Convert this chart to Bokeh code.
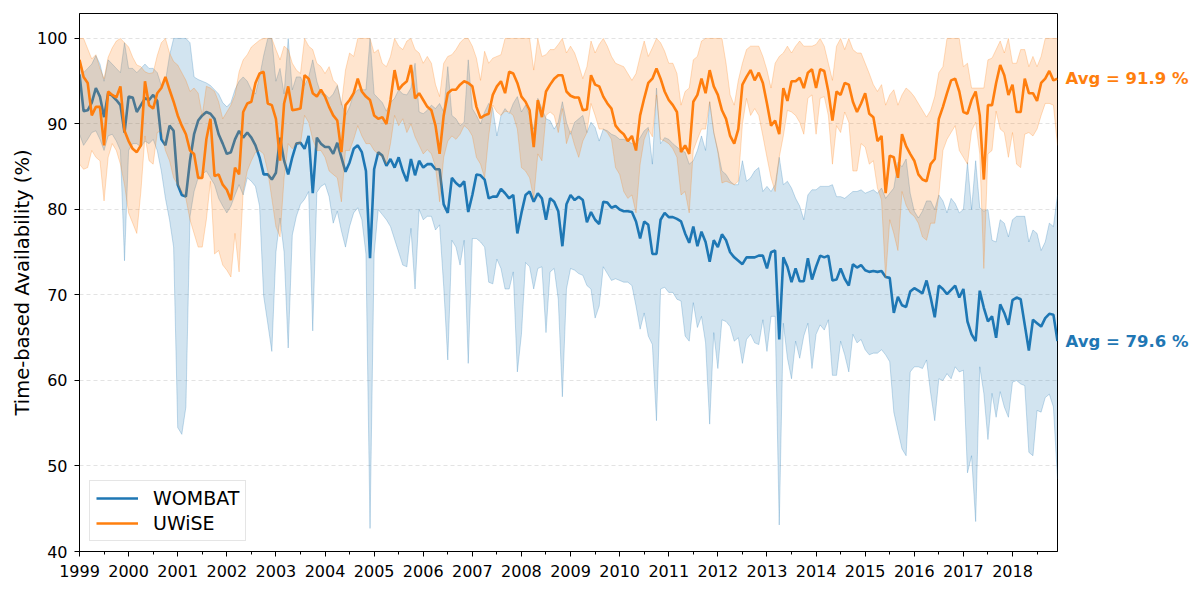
from bokeh.plotting import figure
from bokeh.models import Range1d, FixedTicker, Legend, LegendItem
from bokeh.layouts import row
from bokeh.core.properties import value
from bokeh.embed import file_html
from bokeh.resources import INLINE

# ---- data: monthly values, Jan 1999 .. Dec 2018 (12 per row = one year) ----
START_YEAR = 1999
YEAR_TICKS = list(range(1999, 2019))
SERIES_NAMES = ["WOMBAT", "UWiSE"]
AVG_VALUES = [79.6, 91.9]

wombat_mean = [
    95.8, 91.5, 91.6, 92.5, 94.2, 93.2, 90.8, 93.6, 93.3, 92.8, 92.2, 89.0,
    93.2, 93.1, 91.4, 92.2, 93.0, 92.8, 93.4, 92.7, 88.2, 87.5, 89.8, 89.2,
    82.9, 81.7, 81.5, 85.7, 88.8, 90.4, 91.0, 91.4, 91.2, 90.6, 88.8, 87.7,
    86.5, 86.7, 88.2, 89.2, 88.4, 89.0, 88.4, 87.5, 86.1, 84.1, 84.1, 83.5,
    84.3, 88.4, 85.7, 84.1, 86.1, 87.7, 87.8, 87.1, 88.6, 81.9, 88.4, 87.7,
    87.3, 87.3, 86.5, 87.8, 86.1, 84.4, 85.5, 87.1, 87.5, 86.7, 84.5, 74.3,
    84.7, 86.7, 86.3, 85.1, 85.9, 84.9, 86.1, 84.5, 83.3, 85.9, 84.0, 85.7,
    84.9, 85.3, 85.3, 84.7, 84.7, 80.6, 79.6, 83.7, 83.1, 82.7, 83.3, 79.7,
    81.7, 84.1, 84.0, 83.5, 81.3, 81.5, 81.5, 82.4, 81.9, 81.3, 81.7, 77.2,
    79.6, 81.7, 82.1, 80.9, 81.9, 81.3, 78.8, 81.3, 80.9, 79.8, 75.7, 80.6,
    81.7, 81.1, 81.5, 81.1, 78.5, 79.7, 78.8, 78.3, 80.9, 80.8, 80.2, 80.4,
    80.0, 79.8, 79.8, 79.7, 78.6, 76.6, 78.6, 78.2, 74.8, 74.8, 78.8, 79.6,
    79.1, 79.1, 78.9, 78.6, 77.2, 76.1, 78.0, 75.7, 77.4, 76.2, 73.9, 76.4,
    75.6, 77.1, 76.4, 75.0, 74.4, 74.0, 73.6, 74.4, 74.4, 74.4, 74.6, 74.6,
    73.1, 75.0, 75.2, 64.8, 74.4, 73.3, 71.5, 73.1, 71.6, 71.6, 74.3, 71.8,
    73.3, 74.6, 74.4, 74.6, 71.7, 71.8, 73.1, 71.9, 71.1, 73.6, 73.2, 73.5,
    72.9, 72.7, 72.8, 72.7, 72.8, 72.1, 72.0, 67.9, 69.8, 68.8, 68.6, 70.4,
    70.8, 70.5, 70.2, 71.7, 69.7, 67.4, 71.1, 70.7, 70.1, 70.6, 71.1, 69.7,
    70.7, 66.9, 65.4, 64.6, 70.5, 68.5, 66.9, 67.5, 65.0, 68.9, 67.9, 66.5,
    69.4, 69.7, 69.5, 66.5, 63.5, 67.1, 66.7, 66.3, 67.3, 67.8, 67.7, 64.6,
]
wombat_low = [
    88.8, 87.5, 88.2, 89.0, 89.2, 88.2, 86.9, 88.6, 88.8, 88.0, 86.9, 74.0,
    86.9, 87.7, 87.7, 87.3, 88.0, 87.7, 88.2, 86.9, 84.5, 81.3, 78.8, 75.6,
    54.5, 53.7, 56.9, 79.2, 82.1, 83.7, 84.1, 84.5, 83.7, 82.9, 81.3, 80.4,
    79.6, 80.4, 81.7, 82.9, 81.7, 83.7, 83.3, 82.7, 80.4, 69.9, 66.7, 63.4,
    75.0, 79.0, 75.0, 63.8, 77.0, 79.2, 80.6, 81.2, 82.1, 65.8, 82.0, 82.7,
    83.0, 81.5, 78.4, 79.8, 77.5, 75.6, 78.0, 79.6, 80.2, 78.8, 74.8, 42.7,
    74.8, 80.0, 79.4, 78.8, 78.0, 76.5, 75.0, 73.5, 73.3, 77.8, 70.7, 80.0,
    78.8, 79.2, 79.2, 77.6, 78.2, 71.0, 62.4, 76.4, 75.6, 73.5, 76.4, 62.0,
    76.6, 76.6, 76.2, 75.6, 71.5, 71.3, 74.2, 73.1, 70.7, 70.7, 72.7, 61.0,
    65.4, 73.8, 73.3, 70.7, 73.1, 73.3, 65.6, 72.7, 73.1, 69.5, 58.1, 70.7,
    73.1, 72.9, 72.5, 72.3, 71.1, 70.7, 67.3, 68.7, 73.3, 72.5, 71.7, 71.9,
    71.7, 71.5, 71.5, 71.1, 68.7, 66.0, 67.9, 65.2, 64.2, 55.3, 70.7, 70.9,
    70.3, 70.3, 69.5, 69.3, 65.2, 64.6, 69.1, 66.2, 67.5, 64.4, 54.9, 65.6,
    61.4, 67.1, 66.9, 66.3, 64.6, 65.0, 62.0, 64.8, 65.4, 64.4, 64.2, 67.1,
    63.4, 67.5, 67.5, 43.1, 66.7, 62.6, 60.2, 64.6, 62.6, 65.2, 66.7, 61.4,
    65.4, 66.5, 65.9, 67.1, 60.6, 60.6, 64.6, 63.0, 61.0, 65.4, 64.4, 64.8,
    63.6, 63.0, 63.2, 63.2, 63.6, 63.0, 62.2, 56.3, 54.1, 52.0, 51.2, 61.0,
    61.6, 61.6, 61.4, 62.4, 58.5, 55.3, 60.2, 60.0, 60.8, 60.2, 61.6, 61.0,
    61.2, 49.2, 51.2, 43.5, 61.6, 58.5, 53.1, 58.5, 55.7, 58.7, 56.9, 55.7,
    59.8, 60.0, 59.6, 59.4, 51.6, 51.2, 56.5, 56.3, 58.0, 58.4, 56.9, 48.5,
]
wombat_high = [
    97.5, 96.0, 96.5, 97.0, 98.0, 97.0, 95.0, 97.5, 97.0, 96.5, 96.0, 99.5,
    96.5, 96.5, 96.0, 96.5, 97.0, 96.5, 96.5, 96.0, 94.5, 95.0, 98.0, 100.0,
    100.0, 100.0, 100.0, 99.5, 95.5, 95.2, 95.0, 94.8, 94.5, 94.0, 93.5, 92.5,
    92.0, 92.5, 94.0, 95.0, 95.5, 95.0, 94.0, 93.5, 95.5, 98.0, 100.0, 100.0,
    95.0, 96.5, 93.5, 100.0, 94.0, 95.5, 95.5, 94.5, 95.5, 97.5, 95.0, 93.5,
    93.5, 93.0, 93.5, 94.5, 92.5, 91.0, 92.0, 93.5, 94.0, 94.0, 94.0, 100.0,
    93.5, 93.0, 92.5, 91.5, 92.5, 93.0, 94.0, 93.5, 93.4, 94.2, 97.1, 91.4,
    91.2, 91.6, 92.2, 91.8, 92.4, 91.4, 96.7, 91.0, 90.6, 89.8, 90.2, 97.5,
    91.8, 91.0, 90.0, 91.4, 92.4, 91.8, 88.6, 91.0, 91.8, 91.2, 92.4, 93.2,
    91.4, 92.2, 91.0, 89.4, 93.0, 91.8, 90.6, 90.4, 89.4, 90.2, 92.6, 90.2,
    88.8, 90.2, 90.6, 91.0, 89.0, 90.2, 89.6, 88.0, 89.4, 89.2, 88.8, 88.6,
    88.2, 88.2, 88.0, 87.7, 87.7, 88.4, 89.2, 89.6, 85.3, 94.2, 87.7, 88.4,
    88.2, 87.7, 87.3, 86.9, 86.7, 85.3, 85.7, 86.9, 88.6, 86.9, 92.6, 89.0,
    86.9, 84.5, 84.1, 83.3, 82.9, 82.9, 85.7, 83.3, 83.7, 84.5, 84.9, 82.1,
    82.7, 82.1, 82.9, 86.1, 82.9, 83.3, 82.5, 81.3, 80.4, 78.8, 81.7, 82.3,
    82.3, 82.7, 82.7, 82.7, 82.9, 81.5, 81.5, 81.3, 81.7, 82.1, 82.1, 82.3,
    81.9, 82.1, 82.3, 81.9, 82.5, 81.3, 81.9, 82.5, 85.5, 85.0, 85.9, 81.9,
    79.8, 79.0, 79.8, 81.0, 81.0, 80.0, 81.7, 81.0, 79.6, 81.3, 80.7, 79.6,
    80.0, 85.5, 80.0, 85.7, 80.2, 79.8, 80.0, 76.4, 76.2, 78.8, 78.4, 76.8,
    78.8, 79.2, 79.2, 79.2, 76.2, 77.6, 77.2, 75.2, 76.2, 78.4, 78.0, 81.7,
]
uwise_mean = [
    97.5, 95.5, 94.8, 91.0, 92.0, 92.0, 87.5, 93.8, 93.4, 93.1, 94.4, 89.2,
    88.0, 87.1, 86.7, 87.5, 95.0, 92.2, 91.8, 93.6, 94.2, 95.5, 94.0, 92.6,
    91.0, 89.8, 88.8, 86.9, 86.5, 83.7, 83.7, 88.2, 90.6, 83.9, 84.1, 82.9,
    82.3, 81.1, 84.9, 84.1, 91.4, 92.4, 92.6, 94.8, 95.9, 96.1, 92.4, 92.2,
    90.6, 85.7, 92.4, 94.4, 91.6, 91.7, 91.8, 95.7, 95.3, 93.6, 93.2, 94.0,
    93.2, 92.0, 91.0, 90.4, 86.7, 92.2, 92.8, 93.6, 95.3, 93.8, 93.2, 92.8,
    91.0, 90.6, 90.8, 90.0, 92.8, 96.3, 94.0, 94.6, 95.0, 96.9, 93.0, 93.6,
    92.8, 92.0, 91.6, 89.8, 86.5, 91.0, 93.6, 94.0, 94.0, 94.6, 95.0, 94.8,
    94.4, 92.0, 90.7, 91.0, 91.2, 93.4, 94.4, 95.0, 93.6, 96.1, 95.9, 94.8,
    93.2, 92.6, 91.6, 87.3, 92.8, 90.8, 93.8, 94.6, 95.3, 95.7, 95.7, 93.8,
    93.3, 93.1, 93.1, 91.6, 91.7, 95.7, 94.6, 94.4, 93.2, 92.4, 91.8, 89.8,
    89.2, 88.8, 88.0, 88.6, 86.9, 91.0, 93.0, 94.8, 95.3, 96.5, 95.3, 93.8,
    92.8, 92.2, 91.4, 86.7, 87.5, 86.5, 92.6, 93.4, 95.3, 93.6, 96.3, 94.4,
    93.4, 91.6, 90.6, 88.6, 87.7, 89.4, 94.6, 95.5, 96.3, 95.1, 96.0, 94.8,
    92.4, 89.8, 90.4, 88.8, 94.2, 92.7, 95.0, 95.0, 95.4, 94.2, 96.0, 96.4,
    94.2, 96.4, 96.2, 93.8, 90.4, 93.8, 93.4, 94.8, 94.6, 92.6, 91.4, 92.4,
    93.6, 91.2, 90.8, 88.0, 88.6, 81.9, 86.3, 86.1, 83.7, 88.8, 87.4, 86.5,
    85.7, 84.1, 83.5, 83.3, 85.3, 85.9, 90.6, 92.0, 93.6, 95.1, 95.3, 93.8,
    91.4, 91.2, 92.8, 93.8, 91.0, 83.5, 92.2, 92.2, 94.8, 96.9, 95.7, 93.4,
    94.6, 91.4, 91.4, 95.3, 93.6, 93.6, 92.7, 94.8, 95.3, 96.2, 95.1, 95.3,
]
uwise_low = [
    85.3, 84.7, 84.9, 86.9, 86.1, 85.7, 81.0, 86.1, 87.7, 86.9, 85.3, 82.9,
    79.6, 78.4, 77.2, 82.1, 88.6, 85.7, 85.3, 89.0, 89.2, 86.9, 85.7, 83.7,
    82.9, 82.1, 81.3, 78.8, 77.2, 75.6, 75.6, 78.8, 83.3, 74.8, 75.2, 73.5,
    72.9, 72.1, 77.2, 72.7, 82.1, 84.5, 85.7, 86.7, 86.9, 86.5, 84.5, 81.3,
    78.0, 76.8, 83.7, 87.7, 87.1, 87.7, 87.7, 91.0, 90.2, 88.2, 86.9, 86.9,
    86.1, 84.5, 84.1, 83.7, 80.9, 86.9, 86.9, 88.2, 89.8, 88.6, 87.7, 87.7,
    86.9, 86.5, 86.1, 85.3, 87.7, 91.0, 89.8, 90.6, 89.0, 90.0, 88.5, 87.5,
    86.5, 87.0, 86.5, 85.0, 80.9, 86.1, 88.0, 88.6, 88.2, 88.8, 89.8, 89.4,
    88.6, 86.1, 85.3, 83.7, 88.6, 92.2, 91.4, 91.0, 91.5, 91.4, 91.0, 89.4,
    84.9, 84.5, 83.7, 81.3, 86.5, 85.7, 91.0, 91.4, 91.0, 89.0, 91.8, 87.7,
    89.2, 87.5, 86.1, 88.0, 89.0, 92.4, 91.0, 89.4, 89.4, 89.0, 88.2, 84.9,
    84.1, 82.1, 81.3, 81.7, 79.6, 85.3, 88.2, 89.4, 88.5, 93.4, 88.2, 88.0,
    87.7, 87.1, 86.1, 81.7, 82.1, 79.6, 86.9, 88.2, 89.4, 89.4, 92.6, 89.0,
    86.7, 83.1, 83.3, 83.1, 82.9, 83.3, 90.0, 93.0, 91.0, 91.8, 91.0, 88.6,
    86.1, 83.7, 82.1, 86.1, 88.6, 91.6, 91.4, 91.0, 90.2, 88.8, 93.0, 93.4,
    88.8, 93.0, 93.2, 91.0, 85.3, 89.8, 89.0, 91.4, 90.2, 84.5, 84.5, 87.7,
    87.3, 85.3, 85.7, 82.5, 81.1, 72.0, 78.8, 77.2, 75.2, 82.1, 80.5, 79.6,
    79.2, 78.4, 76.8, 76.4, 78.4, 78.4, 81.7, 86.9, 88.2, 89.0, 89.8, 86.9,
    86.1, 85.3, 89.2, 90.2, 86.5, 73.1, 86.5, 86.9, 91.5, 89.4, 89.0, 86.1,
    89.0, 85.3, 84.9, 88.8, 89.0, 88.6, 89.4, 91.0, 92.4, 92.4, 92.2, 87.5,
]
uwise_high = [
    100.0, 100.0, 98.8, 97.6, 98.1, 96.5, 95.3, 97.8, 98.9, 99.7, 100.0, 99.5,
    99.0, 97.8, 96.9, 96.7, 96.1, 95.9, 96.0, 98.0, 99.5, 100.0, 98.3, 97.3,
    96.9, 96.0, 95.1, 93.8, 94.2, 93.6, 91.0, 94.4, 94.2, 93.8, 92.6, 90.6,
    91.4, 92.2, 93.4, 96.1, 97.5, 98.1, 99.0, 99.4, 99.8, 100.0, 100.0, 100.0,
    98.7, 97.5, 99.1, 98.7, 97.1, 96.3, 95.9, 100.0, 99.1, 98.7, 97.1, 96.7,
    95.9, 96.7, 95.1, 94.6, 92.2, 96.3, 98.3, 97.9, 100.0, 100.0, 100.0, 100.0,
    98.3, 98.7, 97.1, 96.7, 97.9, 100.0, 99.1, 98.7, 99.7, 100.0, 98.7, 98.3,
    97.1, 97.9, 97.1, 94.6, 93.2, 97.1, 97.9, 98.1, 98.7, 99.5, 100.0, 100.0,
    99.1, 97.7, 95.1, 98.5, 97.1, 97.7, 97.9, 98.1, 100.0, 100.0, 100.0, 100.0,
    100.0, 100.0, 100.0, 96.3, 100.0, 97.9, 98.1, 98.7, 98.7, 99.3, 100.0, 98.3,
    99.1, 98.3, 96.9, 95.3, 96.7, 99.7, 98.3, 99.3, 100.0, 99.1, 97.9, 97.1,
    96.9, 96.7, 95.9, 95.1, 95.9, 97.9, 99.7, 97.9, 98.9, 100.0, 99.5, 98.5,
    97.1, 97.1, 95.9, 92.2, 93.8, 94.2, 97.5, 97.9, 99.7, 100.0, 100.0, 100.0,
    100.0, 100.0, 97.1, 93.4, 92.2, 95.1, 97.1, 98.7, 99.1, 99.1, 99.1, 97.9,
    96.3, 94.2, 97.1, 97.9, 98.3, 99.1, 98.3, 99.1, 99.7, 99.1, 99.1, 99.1,
    99.3, 100.0, 99.1, 97.1, 95.1, 99.1, 100.0, 98.7, 100.0, 98.7, 98.3, 98.3,
    97.1, 95.9, 94.6, 93.8, 94.6, 92.2, 93.4, 94.0, 92.2, 93.4, 94.2, 93.8,
    93.2, 92.4, 91.6, 90.8, 91.6, 93.2, 96.0, 96.7, 100.0, 100.0, 100.0, 100.0,
    96.7, 97.1, 94.2, 94.2, 94.2, 94.2, 97.5, 97.7, 98.7, 99.7, 98.3, 100.0,
    97.1, 97.1, 98.7, 98.7, 96.7, 97.9, 96.7, 97.9, 100.0, 100.0, 100.0, 100.0,
]

# month positions in decimal years
months = [START_YEAR + i / 12 for i in range(len(wombat_mean))]
half_years = [y + 0.5 for y in YEAR_TICKS]

BLUE = "#1f77b4"
ORANGE = "#ff7f0e"
FONT = "DejaVu Sans"

yr = Range1d(40, 102.92)
p = figure(width=1058, height=591, output_backend="svg", toolbar_location=None,
           x_range=Range1d(months[0], months[-1]), y_range=yr,
           min_border_left=79, min_border_right=1, min_border_top=13, min_border_bottom=40)

series = [
    (SERIES_NAMES[0], wombat_mean, wombat_low, wombat_high, BLUE),
    (SERIES_NAMES[1], uwise_mean, uwise_low, uwise_high, ORANGE),
]
items = []
for name, mean, lo, hi, col in series:
    ln = p.line(months, mean, line_color=col, line_width=2.6)
    p.varea(x=months, y1=lo, y2=hi, fill_color=col, fill_alpha=0.2)
    p.line(months, lo, line_color=col, line_alpha=0.25, line_width=1)
    p.line(months, hi, line_color=col, line_alpha=0.25, line_width=1)
    items.append(LegendItem(label=name, renderers=[ln]))

legend = Legend(items=items, location="bottom_left", margin=10,
                label_text_font=FONT, label_text_font_size="19px", label_text_color="black",
                glyph_width=42, glyph_height=22, label_height=22, label_standoff=15,
                padding=6, spacing=3, border_line_color="#cccccc", border_line_width=1,
                background_fill_alpha=0.85)
p.add_layout(legend)

# axes
p.xaxis.ticker = FixedTicker(ticks=YEAR_TICKS, minor_ticks=half_years)
p.xaxis.formatter.use_scientific = False
p.yaxis.ticker = FixedTicker(ticks=[40, 50, 60, 70, 80, 90, 100])
p.yaxis.axis_label = "Time-based Availability (%)"
p.yaxis.axis_label_text_font = FONT
p.yaxis.axis_label_text_font_size = "19.5px"
p.yaxis.axis_label_text_font_style = "normal"
p.yaxis.axis_label_text_color = "black"
p.yaxis.axis_label_standoff = 0
p.yaxis.minor_tick_line_color = None
for ax in (p.xaxis, p.yaxis):
    ax.major_label_text_font = FONT
    ax.major_label_text_font_size = "16px"
    ax.major_label_text_color = "black"
    ax.axis_line_color = "black"
    ax.major_tick_line_color = "black"
    ax.major_tick_out = 5
    ax.major_tick_in = 0
p.xaxis.major_label_standoff = 8
p.yaxis.major_label_standoff = 7
p.xaxis.minor_tick_line_color = "black"
p.xaxis.minor_tick_out = 3
p.xaxis.minor_tick_in = 0

p.xgrid.grid_line_color = None
p.ygrid.grid_line_color = "#b0b0b0"
p.ygrid.grid_line_alpha = 0.35
p.ygrid.grid_line_dash = "4 3"
p.outline_line_color = "black"
p.outline_line_width = 1
p.outline_line_alpha = 1
p.background_fill_color = "white"

# right-hand panel with the average labels, sharing the y range
p2 = figure(width=142, height=591, output_backend="svg", toolbar_location=None,
            x_range=Range1d(0, 1), y_range=yr, x_axis_type=None, y_axis_type=None,
            min_border_left=0, min_border_right=0, min_border_top=13, min_border_bottom=40)
p2.outline_line_color = None
p2.text(x=[0, 0], y=[wombat_mean[-1], uwise_mean[-1]],
        text=[f"Avg = {a:.1f} %" for a in AVG_VALUES],
        text_color=[BLUE, ORANGE], x_offset=7,
        text_font=value(FONT), text_font_style="bold", text_font_size=value("16.5px"),
        text_baseline="middle", text_align="left")

layout = row(p, p2)
open("out.html", "w").write(file_html(layout, INLINE))
